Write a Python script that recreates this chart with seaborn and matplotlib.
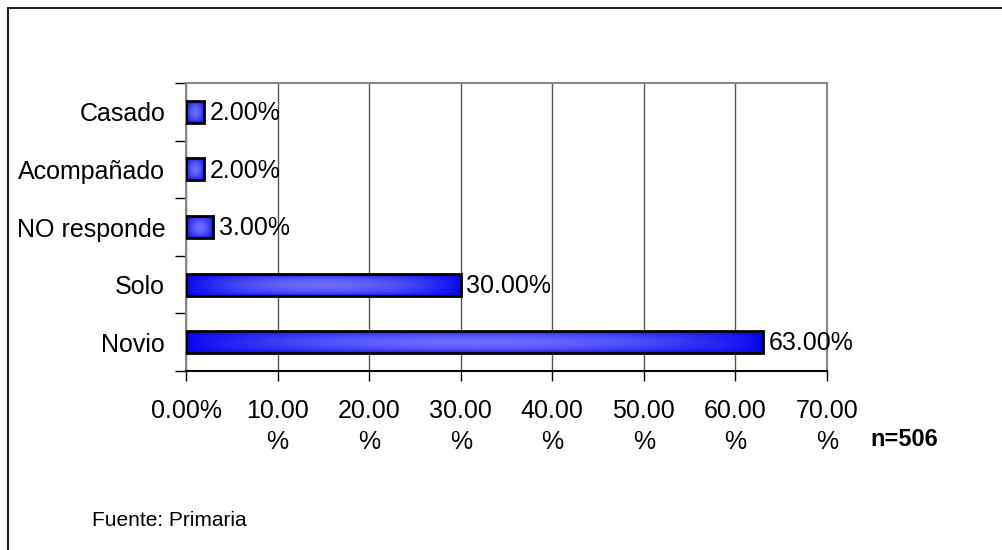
import numpy as np
import pandas as pd
import seaborn as sns
import matplotlib.pyplot as plt
from matplotlib.lines import Line2D
from matplotlib.ticker import FixedLocator

# data
categories = ['Casado', 'Acompañado', 'NO responde', 'Solo', 'Novio']
values = [2.0, 2.0, 3.0, 30.0, 63.0]
xticks = [0, 10, 20, 30, 40, 50, 60, 70]
xticklabels = ['0.00%'] + ['%.2f\n%%' % t for t in xticks[1:]]

df = pd.DataFrame({'estado': categories, 'pct': values})

sns.set_style('white')
plt.rcParams['font.family'] = ['Liberation Sans', 'DejaVu Sans']
plt.rcParams['text.color'] = 'black'
plt.rcParams['xtick.color'] = 'black'
plt.rcParams['ytick.color'] = 'black'

fig = plt.figure(figsize=(10.03, 5.5), dpi=100)
ax = fig.add_axes([186 / 1003, 1 - 371 / 550, (827 - 186) / 1003, (371 - 83) / 550])

sns.barplot(data=df, x='pct', y='estado', order=categories, orient='h',
            width=0.38, color='#3333ff', ax=ax, zorder=2)

# gradient fill for the bars
dark = np.array([0.02, 0.02, 0.93])
light = np.array([0.42, 0.42, 1.0])
u = np.linspace(0, 1, 200)
v = np.linspace(0, 1, 40)
U, V = np.meshgrid(u, v)
f = np.sin(np.pi * U) ** 0.8 * np.sin(np.pi * V) ** 0.5
grad = dark + (light - dark) * f[..., None]

for p in ax.patches:
    x0, y0 = p.get_x(), p.get_y()
    w, h = p.get_width(), p.get_height()
    im = ax.imshow(grad, extent=[x0, x0 + w, y0 + h, y0], aspect='auto',
                   zorder=2.5, interpolation='bilinear')
    im.set_clip_path(p)
    p.set_facecolor('none')
    p.set_edgecolor('black')
    p.set_linewidth(2)
    p.set_zorder(3)
    ax.text(x0 + w + 0.6, y0 + h / 2 + 0.02, '%.2f%%' % w, va='center', ha='left',
            fontsize=18, color='black', zorder=4)

ax.set_xlim(0, 70)
ax.set_ylim(len(categories) - 0.5, -0.5)
ax.set_xticks(xticks)
ax.set_xticklabels(xticklabels, fontsize=18, linespacing=1.4)
ax.set_xlabel('')
ax.set_ylabel('')
ax.tick_params(axis='y', length=0, pad=15, labelsize=18)
ax.yaxis.set_minor_locator(FixedLocator(np.arange(-0.5, len(categories), 1)))
ax.tick_params(axis='y', which='minor', length=8, width=1, color='black', left=True)
ax.tick_params(axis='x', length=7, width=1, color='black', bottom=True, pad=13)

ax.grid(axis='x', color='#555555', linewidth=1)
ax.set_axisbelow(True)
for s in ['top', 'right', 'left']:
    ax.spines[s].set_color('#888888')
    ax.spines[s].set_linewidth(1.5)
ax.spines['bottom'].set_color('black')
ax.spines['bottom'].set_linewidth(1.5)

fig.text(904 / 1003, 1 - 439 / 550, 'n=506', fontsize=17, fontweight='bold',
         ha='center', va='center')
fig.text(92 / 1003, 1 - 520 / 550, 'Fuente: Primaria', fontsize=15,
         ha='left', va='center')

# outer frame
fig.add_artist(Line2D([8.5 / 1003, 8.5 / 1003], [0, 1 - 7.5 / 550], color='#222222', lw=1.5))
fig.add_artist(Line2D([8.5 / 1003, 1], [1 - 7.5 / 550, 1 - 7.5 / 550], color='#222222', lw=1.5))

fig.savefig('out.png', dpi=100)
